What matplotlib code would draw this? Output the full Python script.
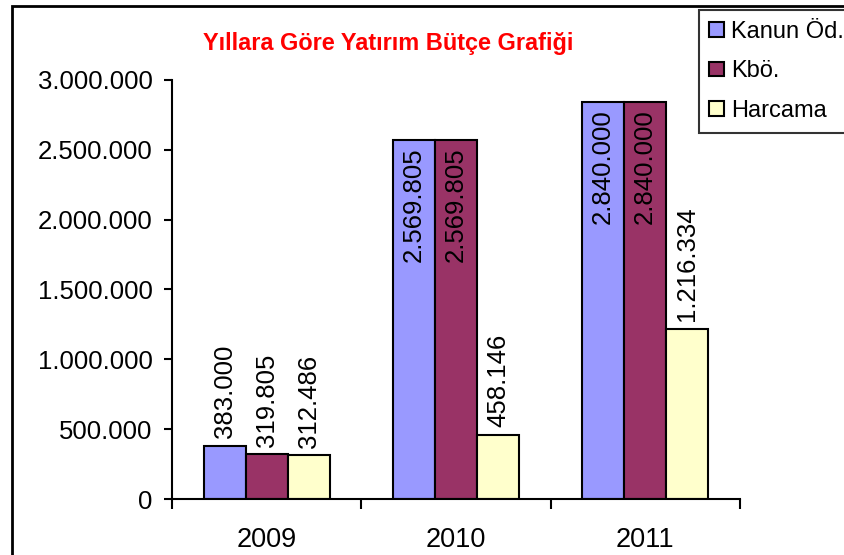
import matplotlib.pyplot as plt
import numpy as np
from matplotlib.patches import Rectangle

# data
years = ["2009", "2010", "2011"]
kanun = [383000, 2569805, 2840000]
kbo = [319805, 2569805, 2840000]
harcama = [312486, 458146, 1216334]
series_names = ["Kanun Öd.", "Kbö.", "Harcama"]
colors = ["#9999FF", "#993366", "#FFFFCC"]
yticks = [0, 500000, 1000000, 1500000, 2000000, 2500000, 3000000]


def fmt(v):
    return f"{v:,}".replace(",", ".")


plt.rcParams['font.family'] = ['Liberation Sans', 'DejaVu Sans']

fig = plt.figure(figsize=(8.45, 5.55), dpi=100)
ax = fig.add_axes([0.2036, 0.1009, 0.672, 0.755])

x = np.arange(len(years))
w = 1 / 4.5
fs = 18.5

for i, (vals, name, c) in enumerate(zip([kanun, kbo, harcama], series_names, colors)):
    pos = x + (i - 1) * w
    ax.bar(pos, vals, w, color=c, edgecolor="black", linewidth=1.5, label=name, zorder=2)
    for p, v in zip(pos, vals):
        if v > 2000000:
            ax.annotate(fmt(v), (p, v), xytext=(0, -5), textcoords="offset points",
                        rotation=90, ha="center", va="top", fontsize=fs)
        else:
            ax.annotate(fmt(v), (p, v), xytext=(0, 5.5), textcoords="offset points",
                        rotation=90, ha="center", va="bottom", fontsize=fs)

ax.set_xlim(-0.5, 2.5)
ax.set_ylim(0, 3000000)
ax.set_yticks(yticks)
ax.set_yticklabels([fmt(v) for v in yticks], fontsize=fs)
ax.set_xticks(x)
ax.set_xticklabels(years, fontsize=19.5)
ax.tick_params(axis="x", length=0, pad=20)
ax.set_xticks([-0.5, 0.5, 1.5, 2.5], minor=True)
ax.tick_params(axis="x", which="minor", length=7.5, width=1.5, direction="out")
ax.tick_params(axis="y", length=6, width=1.5, direction="out", pad=8)

for s in ["top", "right"]:
    ax.spines[s].set_visible(False)
ax.spines["left"].set_linewidth(1.5)
ax.spines["bottom"].set_linewidth(1.5)

fig.text(0.459, 0.922, "Yıllara Göre Yatırım Bütçe Grafiği", color="#FF0000",
         fontsize=16.9, fontweight="bold", ha="center", va="center")

leg = fig.legend(loc="upper left", bbox_to_anchor=(0.827, 0.982), fontsize=17,
                 frameon=True, fancybox=False, edgecolor="black", handlelength=0.6,
                 handleheight=0.6, handletextpad=0.3, borderpad=0.45, labelspacing=0.75,
                 borderaxespad=0)
leg.get_frame().set_linewidth(1.5)

fig.add_artist(Rectangle((0.014, -0.2), 1.2, 1.189, transform=fig.transFigure,
                         fill=False, linewidth=2, edgecolor="black", clip_on=False))

fig.savefig("out.png", dpi=100)
